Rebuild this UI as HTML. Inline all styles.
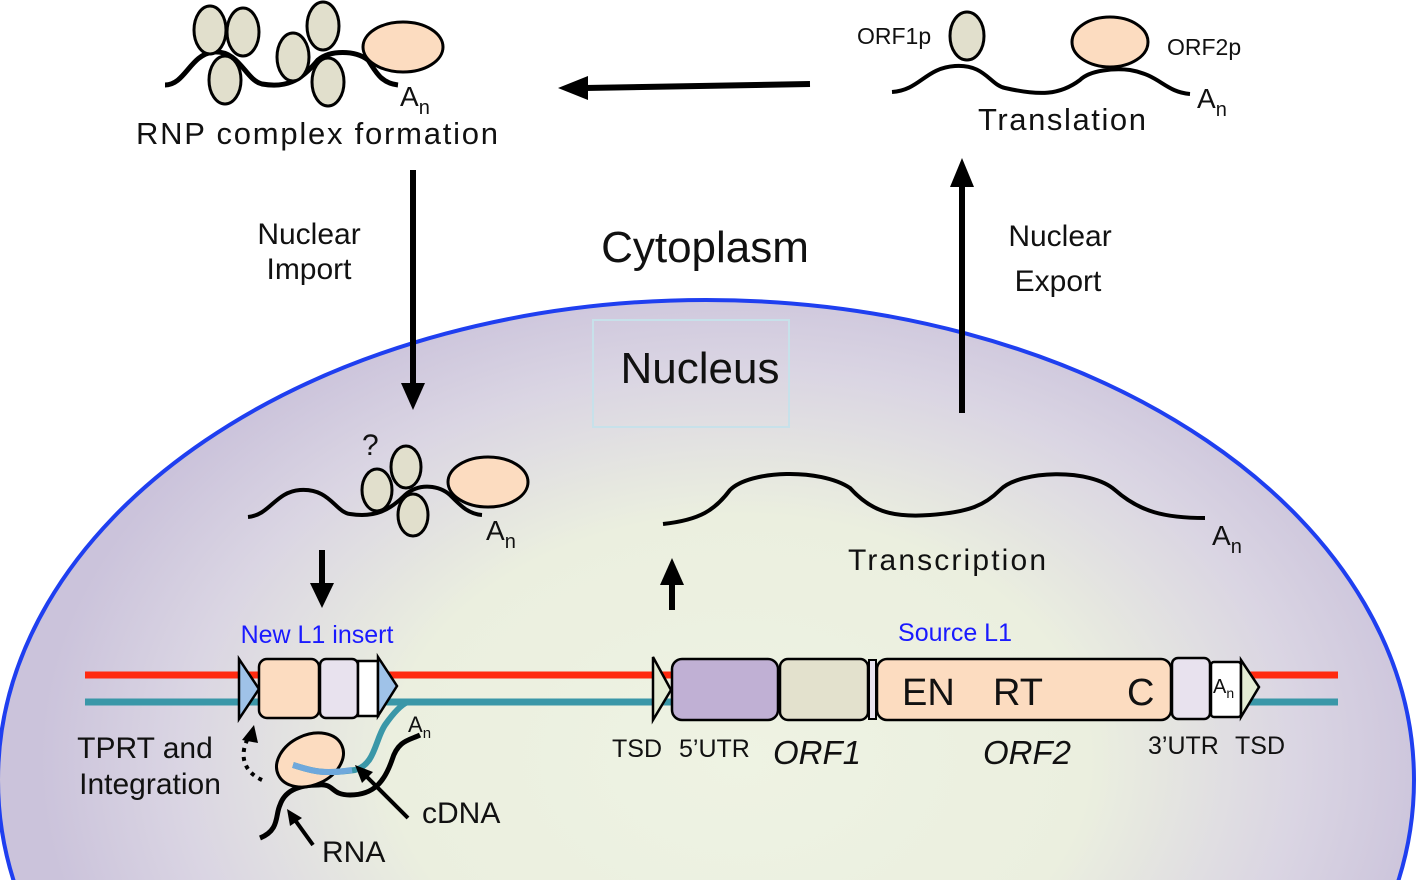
<!DOCTYPE html>
<html><head><meta charset="utf-8"><style>
html,body{margin:0;background:#fff;width:1418px;height:880px;overflow:hidden}
svg{display:block}
text{font-family:"Liberation Sans","DejaVu Sans",sans-serif;fill:#111}
</style></head><body>
<svg width="1418" height="880" viewBox="0 0 1418 880" xmlns="http://www.w3.org/2000/svg">
<defs>
<radialGradient id="ng" cx="740" cy="760" r="700" gradientUnits="userSpaceOnUse" gradientTransform="translate(740 760) scale(1 0.7) translate(-740 -760)">
<stop offset="0" stop-color="#eef3e3"/><stop offset="0.5" stop-color="#ebefdf"/><stop offset="0.8" stop-color="#dad5e3"/><stop offset="1" stop-color="#cbc3db"/>
</radialGradient>
</defs>
<ellipse cx="706" cy="780" rx="708" ry="480" fill="url(#ng)" stroke="#1f3ff0" stroke-width="4"/>

<!-- RNP complex top-left -->
<path d="M165,85 C185,85 190,55 213,52 C240,50 245,80 262,84 C285,88 300,82 318,60 C330,50 355,50 368,60 C375,70 380,83 398,85" fill="none" stroke="#000" stroke-width="5"/>
<g fill="#e1dfcc" stroke="#000" stroke-width="3">
<ellipse cx="210" cy="30" rx="16" ry="24"/><ellipse cx="243" cy="32" rx="16" ry="24"/>
<ellipse cx="225" cy="80" rx="16" ry="24"/><ellipse cx="293" cy="57" rx="16" ry="24"/>
<ellipse cx="323" cy="26" rx="16" ry="24"/><ellipse cx="328" cy="82" rx="16" ry="24"/>
</g>
<ellipse cx="403" cy="47" rx="40" ry="25" fill="#fcdcc0" stroke="#000" stroke-width="3"/>
<text x="400" y="106" font-size="28">A<tspan font-size="20" dy="8">n</tspan></text>
<text x="136" y="144" font-size="31" textLength="362">RNP complex formation</text>

<!-- arrow translation to RNP -->
<line x1="810" y1="84" x2="585" y2="88" stroke="#000" stroke-width="6"/>
<path d="M558,88 L588,76 L588,100 z" fill="#000"/>

<!-- Translation top-right -->
<path d="M892,92 C920,90 925,68 955,66 C985,64 990,85 1005,88 C1040,96 1060,95 1080,80 C1090,70 1115,68 1130,70 C1160,75 1165,92 1190,94" fill="none" stroke="#000" stroke-width="4"/>
<ellipse cx="967" cy="36" rx="17" ry="24" fill="#e1dfcc" stroke="#000" stroke-width="3"/>
<ellipse cx="1110" cy="42" rx="38" ry="25" fill="#fcdcc0" stroke="#000" stroke-width="3"/>
<text x="857" y="44" font-size="23">ORF1p</text>
<text x="1167" y="55" font-size="23">ORF2p</text>
<text x="1197" y="108" font-size="28">A<tspan font-size="20" dy="8">n</tspan></text>
<text x="978" y="130" font-size="31" textLength="168">Translation</text>

<!-- Nuclear import -->
<line x1="413" y1="170" x2="413" y2="385" stroke="#000" stroke-width="6"/>
<path d="M401,383 L425,383 L413,410 z" fill="#000"/>
<text x="309" y="244" font-size="30" text-anchor="middle">Nuclear</text>
<text x="309" y="279" font-size="30" text-anchor="middle">Import</text>

<!-- Nuclear export -->
<line x1="962" y1="413" x2="962" y2="185" stroke="#000" stroke-width="6"/>
<path d="M950,187 L974,187 L962,158 z" fill="#000"/>
<text x="1060" y="246" font-size="30" text-anchor="middle">Nuclear</text>
<text x="1058" y="291" font-size="30" text-anchor="middle">Export</text>

<text x="705" y="262" font-size="44" text-anchor="middle">Cytoplasm</text>
<rect x="593" y="320" width="196" height="107" fill="none" stroke="#c7e1ea" stroke-width="2"/>
<text x="700" y="383" font-size="44" text-anchor="middle">Nucleus</text>

<!-- nuclear RNP -->
<path d="M248,517 C270,515 275,492 300,490 C330,488 335,512 350,514 C375,518 390,510 405,495 C420,482 440,486 450,495 C460,505 468,514 482,515" fill="none" stroke="#000" stroke-width="4"/>
<g fill="#e1dfcc" stroke="#000" stroke-width="3">
<ellipse cx="377" cy="490" rx="15" ry="21"/><ellipse cx="406" cy="467" rx="15" ry="21"/>
<ellipse cx="413" cy="515" rx="15" ry="21"/>
</g>
<ellipse cx="488" cy="482" rx="40" ry="25" fill="#fcdcc0" stroke="#000" stroke-width="3"/>
<text x="362" y="455" font-size="30">?</text>
<text x="486" y="540" font-size="28">A<tspan font-size="20" dy="8">n</tspan></text>
<line x1="322" y1="550" x2="322" y2="585" stroke="#000" stroke-width="6"/>
<path d="M310,583 L334,583 L322,608 z" fill="#000"/>

<!-- transcript -->
<path d="M663,524 C700,520 715,510 730,490 C750,470 820,468 850,488 C870,510 890,518 930,515 C970,512 985,505 1000,490 C1020,470 1090,468 1115,490 C1140,512 1165,518 1205,518" fill="none" stroke="#000" stroke-width="4"/>
<text x="1212" y="545" font-size="28">A<tspan font-size="20" dy="8">n</tspan></text>
<text x="848" y="570" font-size="30" textLength="198">Transcription</text>
<line x1="672" y1="610" x2="672" y2="583" stroke="#000" stroke-width="6"/>
<path d="M660,585 L684,585 L672,558 z" fill="#000"/>

<!-- DNA lines -->
<line x1="85" y1="675" x2="1338" y2="675" stroke="#ff2a10" stroke-width="7"/>
<line x1="85" y1="702" x2="1338" y2="702" stroke="#3a97a8" stroke-width="7"/>

<!-- New L1 insert -->
<text x="317" y="643" font-size="25" text-anchor="middle" style="fill:#1a1aff">New L1 insert</text>
<path d="M239,659 L259,689 L239,719 z" fill="#9fc2e8" stroke="#000" stroke-width="2.5"/>
<rect x="259" y="659" width="60" height="59" rx="8" fill="#fcdcc0" stroke="#000" stroke-width="2.5"/>
<rect x="320" y="659" width="38" height="59" rx="6" fill="#e8e2ee" stroke="#000" stroke-width="2.5"/>
<rect x="358" y="661" width="20" height="55" fill="#fff" stroke="#000" stroke-width="2.5"/>
<path d="M378,657 L397,686 L378,716 z" fill="#9fc2e8" stroke="#000" stroke-width="2.5"/>

<!-- integration complex -->
<path d="M260,838 C280,830 275,815 280,805 C285,790 300,785 318,785 C335,783 330,795 350,795 C375,795 385,780 392,760 C398,740 410,740 420,735" fill="none" stroke="#000" stroke-width="5"/>
<ellipse cx="310" cy="760" rx="35" ry="25" transform="rotate(-25 310 760)" fill="#fcdcc0" stroke="#000" stroke-width="3"/>
<path d="M293,765 C310,770 320,775 355,770 C375,765 375,740 385,725 C392,715 400,705 408,702" fill="none" stroke="#3a97a8" stroke-width="6"/>
<path d="M293,765 C310,770 320,775 352,770" fill="none" stroke="#6ea8dc" stroke-width="6"/>
<text x="408" y="732" font-size="22">A<tspan font-size="15" dy="6">n</tspan></text>
<path d="M262,780 C240,770 240,750 250,735" fill="none" stroke="#000" stroke-width="4" stroke-dasharray="4,5"/>
<path d="M242,740 L254,725 L258,743 z" fill="#000"/>
<text x="145" y="758" font-size="30" text-anchor="middle">TPRT and</text>
<text x="150" y="794" font-size="30" text-anchor="middle">Integration</text>
<line x1="408" y1="818" x2="365" y2="775" stroke="#000" stroke-width="4"/>
<path d="M355,765 L373,772 L362,783 z" fill="#000"/>
<text x="422" y="823" font-size="30">cDNA</text>
<line x1="313" y1="845" x2="295" y2="820" stroke="#000" stroke-width="4"/>
<path d="M287,809 L302,818 L290,826 z" fill="#000"/>
<text x="322" y="862" font-size="30">RNA</text>

<!-- Source L1 -->
<text x="955" y="641" font-size="25" text-anchor="middle" style="fill:#1a1aff">Source L1</text>
<path d="M653,657 L671,690 L653,720 z" fill="#e4ecd4" stroke="#000" stroke-width="2.5"/>
<rect x="672" y="659" width="106" height="61" rx="10" fill="#c0b0d4" stroke="#000" stroke-width="2.5"/>
<rect x="780" y="659" width="88" height="61" rx="8" fill="#e3e1cd" stroke="#000" stroke-width="2.5"/>
<rect x="869" y="660" width="7" height="59" fill="#e8e2ee" stroke="#000" stroke-width="2"/>
<rect x="877" y="659" width="294" height="61" rx="10" fill="#fcdcc0" stroke="#000" stroke-width="2.5"/>
<text x="902" y="705" font-size="38">EN</text>
<text x="993" y="705" font-size="38">RT</text>
<text x="1127" y="705" font-size="38">C</text>
<rect x="1172" y="658" width="38" height="61" rx="6" fill="#e8e2ee" stroke="#000" stroke-width="2.5"/>
<rect x="1211" y="662" width="30" height="55" rx="3" fill="#fff" stroke="#000" stroke-width="2.5"/>
<text x="1213" y="693" font-size="20">A<tspan font-size="14" dy="5">n</tspan></text>
<path d="M1241,660 L1259,687 L1241,717 z" fill="#e4ecd4" stroke="#000" stroke-width="2.5"/>

<text x="612" y="757" font-size="25">TSD</text>
<text x="679" y="757" font-size="25">5’UTR</text>
<text x="773" y="764" font-size="33" font-style="italic">ORF1</text>
<text x="983" y="764" font-size="33" font-style="italic">ORF2</text>
<text x="1148" y="754" font-size="25">3’UTR</text>
<text x="1235" y="754" font-size="25">TSD</text>
</svg>
</body></html>
